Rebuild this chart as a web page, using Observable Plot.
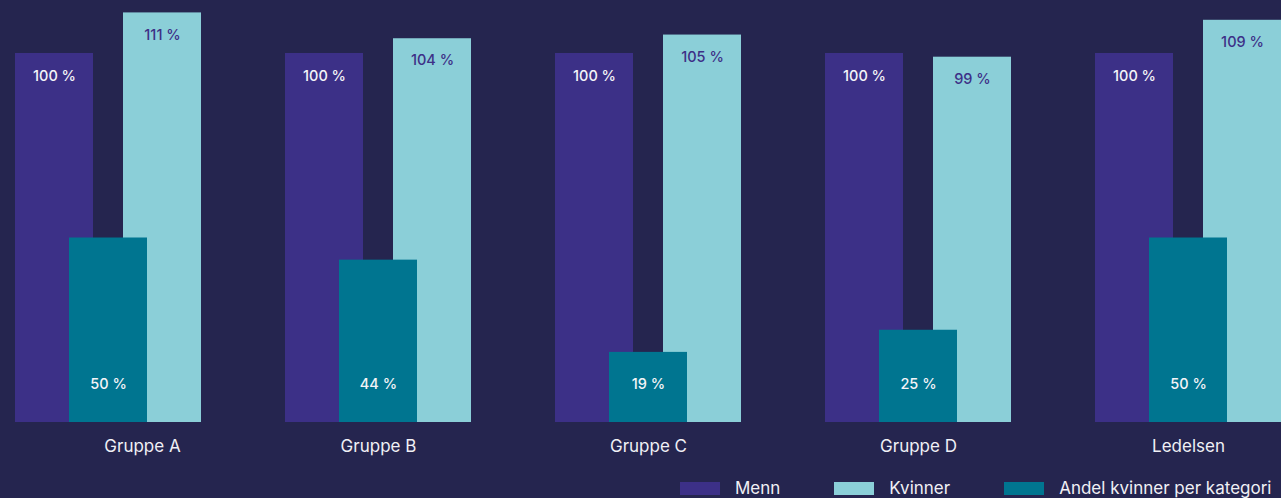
<!DOCTYPE html>
<html>
<head>
<meta charset="utf-8">
<script src="https://cdn.jsdelivr.net/npm/d3@7"></script>
<script src="https://cdn.jsdelivr.net/npm/@observablehq/plot@0.6"></script>
<style>
  html, body { margin: 0; padding: 0; background: #25254f; overflow: hidden; }
  body { width: 1281px; height: 498px; position: relative; font-family: Inter, "Noto Sans", sans-serif; }
  #chart svg { display: block; background: transparent; }
  #legend { position: absolute; left: 680px; top: 479px; display: flex; align-items: center; color: #f0f0f5; font-size: 17px; line-height: 18px; white-space: nowrap; }
  .item { display: flex; align-items: center; margin-right: 54px; }
  .sw { width: 40px; height: 13px; margin-right: 15px; }
</style>
</head>
<body>
<div id="chart"></div>
<div id="legend"></div>
<script>
const groups = ["Gruppe A", "Gruppe B", "Gruppe C", "Gruppe D", "Ledelsen"];
const menn = [100, 100, 100, 100, 100];
const kvinner = [111, 104, 105, 99, 109];
const andel = [50, 44, 19, 25, 50];
const seriesNames = ["Menn", "Kvinner", "Andel kvinner per kategori"];
const seriesColors = ["#3c3087", "#8bcfd8", "#007590"];

const rows = groups.map((g, i) => ({group: g, menn: menn[i], kvinner: kvinner[i], andel: andel[i]}));
const pct = v => v + " %";

const chart = Plot.plot({
  width: 1281,
  height: 478,
  marginLeft: 15,
  marginRight: 0,
  marginTop: 0,
  marginBottom: 0,
  style: {background: "transparent", fontFamily: "Inter, 'Noto Sans', sans-serif"},
  x: {domain: groups, paddingInner: 84 / 270, paddingOuter: 0, axis: null},
  y: {domain: [0, 100], range: [422, 53], axis: null},
  marks: [
    Plot.barY(rows, {x: "group", y: "menn", fill: seriesColors[0], insetLeft: 0, insetRight: 108}),
    Plot.barY(rows, {x: "group", y: "kvinner", fill: seriesColors[1], insetLeft: 108, insetRight: 0}),
    Plot.barY(rows, {x: "group", y: "andel", fill: seriesColors[2], insetLeft: 54, insetRight: 54}),
    Plot.text(rows, {x: "group", y: "menn", text: d => pct(d.menn), dx: -54, dy: 23, fill: "#f4f4f8", fontSize: 14.5, fontWeight: 500}),
    Plot.text(rows, {x: "group", y: "kvinner", text: d => pct(d.kvinner), dx: 54, dy: 22, fill: "#3d3087", fontSize: 14.5, fontWeight: 500}),
    Plot.text(rows, {x: "group", y: 0, text: d => pct(d.andel), dy: -38, fill: "#f4f4f8", fontSize: 14.5, fontWeight: 500}),
    Plot.text(groups.slice(0, 1), {x: d => d, y: 0, text: d => d, dx: 34, dy: 24, fill: "#f0f0f5", fontSize: 17}),
    Plot.text(groups.slice(1), {x: d => d, y: 0, text: d => d, dy: 24, fill: "#f0f0f5", fontSize: 17})
  ]
});
document.getElementById("chart").appendChild(chart);

const legend = document.getElementById("legend");
seriesNames.forEach((name, i) => {
  const item = document.createElement("div");
  item.className = "item";
  const sw = document.createElement("div");
  sw.className = "sw";
  sw.style.background = seriesColors[i];
  const t = document.createElement("span");
  t.textContent = name;
  item.appendChild(sw);
  item.appendChild(t);
  legend.appendChild(item);
});
</script>
</body>
</html>
